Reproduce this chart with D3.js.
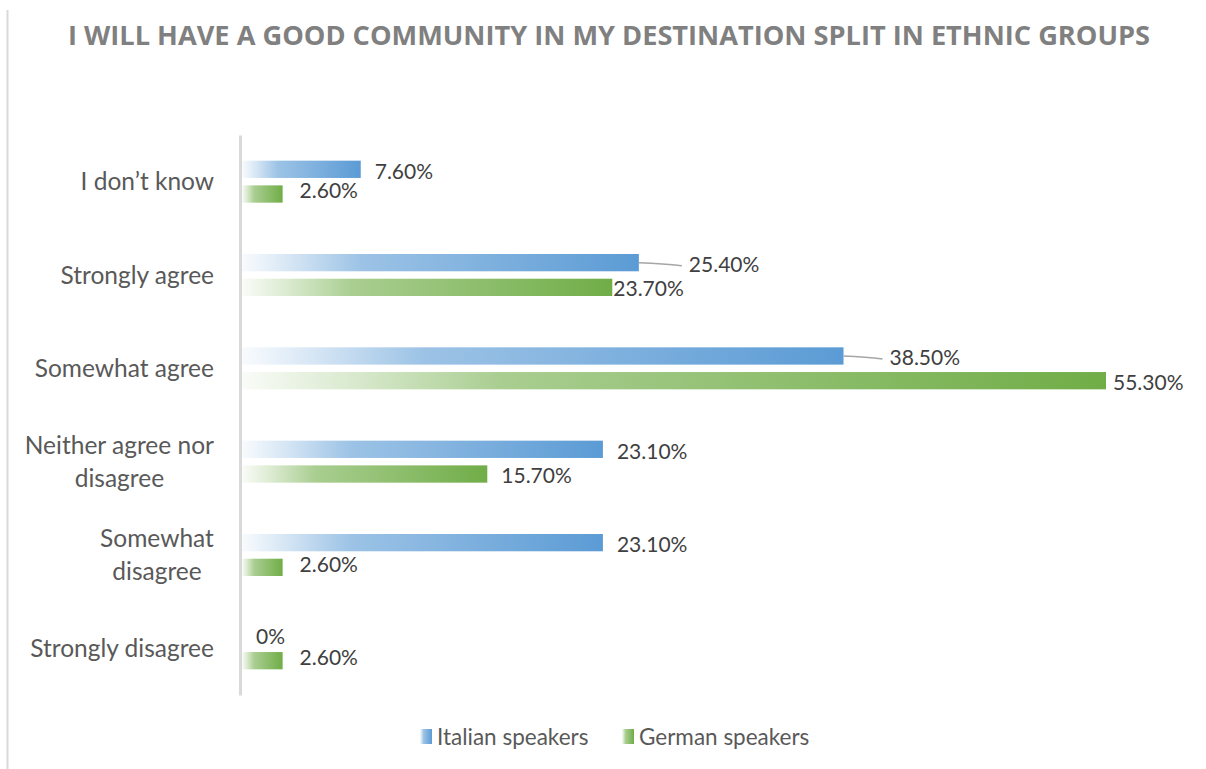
<!DOCTYPE html>
<html><head><meta charset="utf-8">
<script src="https://cdn.jsdelivr.net/npm/d3@7"></script>
<style>body{margin:0;background:#fff}svg{display:block}</style>
</head><body>
<script>
const categories = ["I don\u2019t know","Strongly agree","Somewhat agree","Neither agree nor disagree","Somewhat disagree","Strongly disagree"];
const categoryLines = [["I don\u2019t know"],["Strongly agree"],["Somewhat agree"],["Neither agree nor","disagree"],["Somewhat","disagree"],["Strongly disagree"]];
const seriesNames = ["Italian speakers","German speakers"];
const italian = [7.6,25.4,38.5,23.1,23.1,0];
const german = [2.6,23.7,55.3,15.7,2.6,2.6];
const italianLabels = ["7.60%","25.40%","38.50%","23.10%","23.10%","0%"];
const germanLabels = ["2.60%","23.70%","55.30%","15.70%","2.60%","2.60%"];
const title = "I WILL HAVE A GOOD COMMUNITY IN MY DESTINATION SPLIT IN ETHNIC GROUPS";

const W=1206,H=769;
const colors=["#5b9bd5","#70ad47"];
const font="Lato, 'Open Sans', sans-serif";
const svg=d3.select("body").append("svg").attr("width",W).attr("height",H);
const defs=svg.append("defs");
colors.forEach((c,i)=>{
  const g=defs.append("linearGradient").attr("id","g"+i).attr("x1","0").attr("x2","1").attr("y1","0").attr("y2","0");
  [[0,0.04],[0.12,0.25],[0.3,0.6],[1,1]].forEach(([o,a])=>g.append("stop").attr("offset",o).attr("stop-color",c).attr("stop-opacity",a));
});
// frame left border
svg.append("line").attr("x1",7.5).attr("x2",7.5).attr("y1",10).attr("y2",H).attr("stroke","#d9d9d9").attr("stroke-width",2);

svg.append("text").attr("x",609).attr("y",45).attr("text-anchor","middle")
  .attr("font-family","'Liberation Sans Narrow', 'Open Sans', sans-serif").attr("font-weight","bold").attr("font-size",26)
  .attr("fill","#808080").attr("textLength",1082).attr("lengthAdjust","spacingAndGlyphs").text(title);

const x=d3.scaleLinear().domain([0,55.3]).range([242,1106]);
const y=d3.scaleBand().domain(categories).range([135,695]);
const inner=d3.scaleBand().domain(seriesNames).range([y.bandwidth()/2-21,y.bandwidth()/2+21]).paddingInner(0.3);

const series=[italian,german];
const labels=[italianLabels,germanLabels];
// label nudges (dx, dy, leader) for Excel-like placement
const nudge={
  "0-1":[50,2,true],"0-2":[46,2,true],"0-5":[14,1],
  "1-0":[17,-3],"1-1":[1,1],"1-2":[7,2],"1-4":[17,-3],"1-5":[17,-3]
};
series.forEach((vals,si)=>{
  const g=svg.append("g");
  g.selectAll("rect").data(vals).join("rect")
    .attr("x",x(0)).attr("y",(d,i)=>y(categories[i])+inner(seriesNames[si]))
    .attr("width",d=>x(d)-x(0)).attr("height",inner.bandwidth())
    .attr("fill","url(#g"+si+")");
  vals.forEach((v,i)=>{
    const key=si+"-"+i;
    let dx=14,dy=2,leader=false;
    if(nudge[key]){dx=nudge[key][0];dy=nudge[key][1];leader=!!nudge[key][2];}
    const by=y(categories[i])+inner(seriesNames[si])+inner.bandwidth()/2;
    const tx=x(v)+dx, ty=by+dy;
    if(leader){
      svg.append("path").attr("d",`M${x(v)},${by} Q${x(v)+dx*0.5},${by+1} ${tx-7},${ty+1}`)
        .attr("fill","none").attr("stroke","#a6a6a6").attr("stroke-width",1.5);
    }
    svg.append("text").attr("x",tx).attr("y",ty).attr("dy","0.35em")
      .attr("font-family",font).attr("font-size",21).attr("fill","#404040").text(labels[si][i]);
  });
});

// axis
const ax=svg.append("g").attr("transform","translate(240,0)").call(d3.axisLeft(y).tickSize(0).tickFormat(""));
ax.select(".domain").attr("stroke","#d9d9d9").attr("stroke-width",3);
categories.forEach((c,i)=>{
  const lines=categoryLines[i];
  const cy=y(c)+y.bandwidth()/2;
  const t=svg.append("text").attr("text-anchor","middle").attr("font-family",font).attr("font-size",24.5).attr("fill","#595959");
  lines.forEach((l,k)=>{
    t.append("tspan").attr("x",0).attr("y",cy+(k-(lines.length-1)/2)*33).attr("dy","0.35em").text(l);
  });
  const wmax=t.node().getBBox().width;
  t.attr("transform",`translate(${214-wmax/2},0)`);
});

// legend
const lg=svg.append("g");
const legX=[420,622];
seriesNames.forEach((n,i)=>{
  lg.append("rect").attr("x",legX[i]).attr("y",729).attr("width",12).attr("height",15).attr("fill","url(#g"+i+")");
  lg.append("text").attr("x",legX[i]+17).attr("y",737).attr("dy","0.35em").attr("font-family",font).attr("font-size",22.5).attr("fill","#595959").text(n);
});
</script>
</body></html>
